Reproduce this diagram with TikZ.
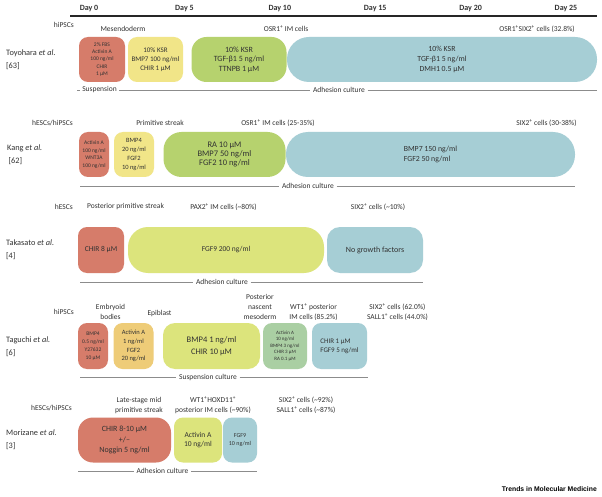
\documentclass[tikz,border=0pt]{standalone}
\usepackage{fontspec}
\setmainfont{Carlito}
\newfontfamily\trendsfont{Liberation Sans}
\usetikzlibrary{positioning}

\definecolor{boxred}{RGB}{214,124,106}
\definecolor{boxyellow}{RGB}{241,229,136}
\definecolor{boxgreen}{RGB}{182,210,110}
\definecolor{boxlime}{RGB}{220,228,124}
\definecolor{boxorange}{RGB}{238,204,120}
\definecolor{boxmint}{RGB}{170,207,163}
\definecolor{boxblue}{RGB}{166,206,213}
\definecolor{txt}{RGB}{50,50,50}

\tikzset{
  stage/.style={rounded corners=9pt, minimum height=45pt, inner sep=0pt, align=center, text=txt},
  cell/.style={text=txt, align=center, font=\fontsize{7.5}{10}\selectfont, inner sep=0pt},
  study/.style={text=txt, align=left, anchor=west, font=\fontsize{8.3}{13}\selectfont, inner sep=0pt},
  culture/.style={text=txt, font=\fontsize{7.5}{9}\selectfont, inner sep=2.5pt},
  cline/.style={draw=black!45, line width=0.9pt}
}

\begin{document}
\begin{tikzpicture}[x=1pt,y=-1pt]
	\fill[white] (0,0) rectangle (602,497);
	\useasboundingbox (0,0) rectangle (602,497);

	% time axis
	\foreach \d in {0,5,...,25}
		\node[font=\bfseries\fontsize{8}{9}\selectfont, text=txt] (day\d) at ({89+19.08*\d},8.5) {Day \d};
	\coordinate (axisL) at (70,16);
	\coordinate (axisR) at (597,16);
	\draw[line width=1.2pt, black!85] (axisL) -- (axisR);

	% Toyohara
	\node[cell, anchor=east] (toyoCells) at (74,25) {hiPSCs};
	\node[cell] (toyoMes) at (123,29) {Mesendoderm};
	\node[cell] (toyoOsr) at (286,29) {OSR1\textsuperscript{+} IM cells};
	\node[cell] (toyoSix) at (537,29) {OSR1\textsuperscript{+}SIX2\textsuperscript{+} cells (32.8\%)};
	\node[study] (toyo) at (6,60) {Toyohara \textit{et al.}\\{[63]}};

	\node[stage, fill=boxblue, rounded corners=22pt, minimum width=310pt, font=\fontsize{7.8}{10}\selectfont] (toyoD) at (442,59.5) {10\% KSR\\TGF-β1 5 ng/ml\\DMH1 0.5 µM};
	\node[stage, fill=boxred, minimum width=46pt, font=\fontsize{5.5}{7.3}\selectfont] (toyoA) at (102,59.5) {2\% FBS\\Activin A\\100 ng/ml\\CHIR\\1 µM};
	\node[stage, fill=boxyellow, minimum width=55pt, font=\fontsize{7}{8.7}\selectfont] (toyoB) at (155.5,59.5) {10\% KSR\\BMP7 100 ng/ml\\CHIR 1 µM};
	\node[stage, fill=boxgreen, rounded corners=15pt, minimum width=95pt, font=\fontsize{8}{9.5}\selectfont] (toyoC) at (239,59.5) {10\% KSR\\TGF-β1 5 ng/ml\\TTNPB 1 µM};

	\coordinate (toyoL) at (77,90);
	\coordinate (toyoR) at (597,90);
	\node[culture] (toyoSusp) at (99.5,90) {Suspension};
	\node[culture] (toyoAdh) at (339,90) {Adhesion culture};
	\draw[cline] (toyoL) -- (toyoSusp);
	\draw[cline] (toyoSusp) -- (toyoAdh);
	\draw[cline] (toyoAdh) -- (toyoR);

	% Kang
	\node[cell, anchor=east] (kangCells) at (73,123) {hESCs/hiPSCs};
	\node[cell] (kangPs) at (160,123) {Primitive streak};
	\node[cell] (kangOsr) at (278,123) {OSR1\textsuperscript{+} IM cells (25-35\%)};
	\node[cell] (kangSix) at (546.5,123) {SIX2\textsuperscript{+} cells (30-38\%)};
	\node[study] (kang) at (7,155) {Kang \textit{et al.}\\\,{[62]}};

	\node[stage, fill=boxblue, rounded corners=22pt, minimum width=289pt, align=left, font=\fontsize{7.8}{10}\selectfont] (kangD) at (430.5,154.5) {BMP7 150 ng/ml\\FGF2 50 ng/ml};
	\node[stage, fill=boxred, minimum width=30pt, font=\fontsize{5.5}{7.5}\selectfont] (kangA) at (94,154.5) {Activin A\\100 ng/ml\\WNT3A\\100 ng/ml};
	\node[stage, fill=boxyellow, minimum width=40pt, font=\fontsize{6.5}{9}\selectfont] (kangB) at (134,154.5) {BMP4\\20 ng/ml\\FGF2\\10 ng/ml};
	\node[stage, fill=boxgreen, rounded corners=18pt, minimum width=122pt, font=\fontsize{8.5}{9.3}\selectfont] (kangC) at (224.5,154.5) {RA 10 µM\\BMP7 50 ng/ml\\FGF2 10 ng/ml};

	\coordinate (kangL) at (80,186);
	\coordinate (kangR) at (575,186);
	\node[culture] (kangAdh) at (308,186) {Adhesion culture};
	\draw[cline] (kangL) -- (kangAdh);
	\draw[cline] (kangAdh) -- (kangR);

	% Takasato
	\node[cell, anchor=east] (takaCells) at (73,207) {hESCs};
	\node[cell] (takaPps) at (125.5,207) {Posterior primitive streak};
	\node[cell] (takaPax) at (223.5,207) {PAX2\textsuperscript{+} IM cells (\textasciitilde80\%)};
	\node[cell] (takaSix) at (378,207) {SIX2\textsuperscript{+} cells (\textasciitilde10\%)};
	\node[study] (taka) at (6,250) {Takasato \textit{et al.}\\{[4]}};

	\node[stage, fill=boxred, minimum width=46pt, minimum height=46pt, font=\fontsize{7.5}{9}\selectfont] (takaA) at (101,250) {CHIR 8 µM};
	\node[stage, fill=boxlime, rounded corners=20pt, minimum width=196pt, minimum height=46pt, font=\fontsize{7.5}{9}\selectfont] (takaB) at (226,250) {FGF9 200 ng/ml};
	\node[stage, fill=boxblue, rounded corners=13pt, minimum width=96pt, minimum height=46pt, font=\fontsize{8}{9}\selectfont] (takaC) at (375,250) {No growth factors};

	\coordinate (takaL) at (80,282);
	\coordinate (takaR) at (423,282);
	\node[culture] (takaAdh) at (222,282) {Adhesion culture};
	\draw[cline] (takaL) -- (takaAdh);
	\draw[cline] (takaAdh) -- (takaR);

	% Taguchi
	\node[cell, anchor=east] (taguCells) at (74,312) {hiPSCs};
	\node[cell] (taguEb) at (110.5,312) {Embryoid\\bodies};
	\node[cell] (taguEpi) at (159.5,313) {Epiblast};
	\node[cell] (taguPnm) at (260,307) {Posterior\\nascent\\mesoderm};
	\node[cell] (taguWt) at (313.5,312) {WT1\textsuperscript{+} posterior\\IM cells (85.2\%)};
	\node[cell] (taguSix) at (397.5,312) {SIX2\textsuperscript{+} cells (62.0\%)\\SALL1\textsuperscript{+} cells (44.0\%)};
	\node[study] (tagu) at (6,347) {Taguchi \textit{et al.}\\{[6]}};

	\node[stage, fill=boxred, minimum width=30pt, minimum height=46pt, font=\fontsize{5.5}{8}\selectfont] (taguA) at (93,346) {BMP4\\0.5 ng/ml\\Y27632\\10 µM};
	\node[stage, fill=boxorange, minimum width=40pt, minimum height=46pt, font=\fontsize{6.5}{8.7}\selectfont] (taguB) at (133.5,346) {Activin A\\1 ng/ml\\FGF2\\20 ng/ml};
	\node[stage, fill=boxlime, rounded corners=12pt, minimum width=97pt, minimum height=46pt, font=\fontsize{8.5}{11.5}\selectfont] (taguC) at (211.5,346) {BMP4 1 ng/ml\\CHIR 10 µM};
	\node[stage, fill=boxmint, minimum width=44pt, minimum height=46pt, font=\fontsize{5}{6.6}\selectfont] (taguD) at (285,346) {Activin A\\10 ng/ml\\BMP4 3 ng/ml\\CHIR 3 µM\\RA 0.1 µM};
	\node[stage, fill=boxblue, minimum width=55pt, minimum height=46pt, align=left, font=\fontsize{7}{9}\selectfont] (taguE) at (339.5,346) {CHIR 1 µM\\FGF9 5 ng/ml};

	\coordinate (taguL) at (80,377);
	\coordinate (taguR) at (368,377);
	\node[culture] (taguSusp) at (208,377) {Suspension culture};
	\draw[cline] (taguL) -- (taguSusp);
	\draw[cline] (taguSusp) -- (taguR);

	% Morizane
	\node[cell, anchor=east] (moriCells) at (72,408) {hESCs/hiPSCs};
	\node[cell] (moriPs) at (139,405) {Late-stage mid\\primitive streak};
	\node[cell] (moriWt) at (213,405) {WT1\textsuperscript{+}HOXD11\textsuperscript{+}\\posterior IM cells (\textasciitilde90\%)};
	\node[cell] (moriSix) at (306,405) {SIX2\textsuperscript{+} cells (\textasciitilde92\%)\\SALL1\textsuperscript{+} cells (\textasciitilde87\%)};
	\node[study] (mori) at (6,440) {Morizane \textit{et al.}\\{[3]}};

	\node[stage, fill=boxred, rounded corners=15pt, minimum width=93pt, font=\fontsize{8}{10.5}\selectfont] (moriA) at (124.5,440) {CHIR 8-10 µM\\+/--\\Noggin 5 ng/ml};
	\node[stage, fill=boxlime, minimum width=48pt, font=\fontsize{7.5}{9.3}\selectfont] (moriB) at (198,440) {Activin A\\10 ng/ml};
	\node[stage, fill=boxblue, minimum width=34pt, font=\fontsize{6}{8}\selectfont] (moriC) at (240,440) {FGF9\\10 ng/ml};

	\coordinate (moriL) at (78,471);
	\coordinate (moriR) at (257,471);
	\node[culture] (moriAdh) at (162.5,471) {Adhesion culture};
	\draw[cline] (moriL) -- (moriAdh);
	\draw[cline] (moriAdh) -- (moriR);

	\node[font=\trendsfont\bfseries\fontsize{6.8}{8}\selectfont, anchor=east, inner sep=0pt] (trends) at (597,489) {Trends in Molecular Medicine};
\end{tikzpicture}
\end{document}
